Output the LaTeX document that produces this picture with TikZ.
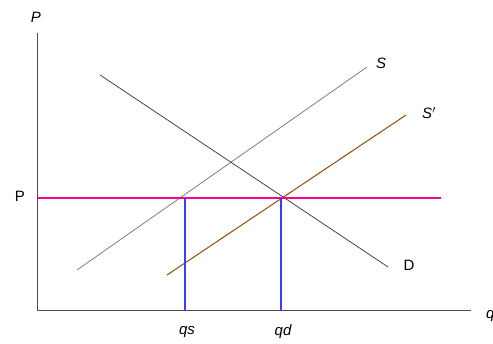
\documentclass[tikz,border=0pt]{standalone}
\usepackage{fontspec}
\setmainfont{Liberation Sans}
\usepackage{tikz}
\usetikzlibrary{positioning}

\definecolor{qblue}{RGB}{60,60,255}
\definecolor{sbrown}{RGB}{150,75,0}
\definecolor{pmagenta}{RGB}{255,0,140}

\begin{document}
\begin{tikzpicture}[
  x=1pt, y=-1pt,
  font=\fontsize{15}{18}\selectfont,
  axis/.style={draw=black!70, line width=1pt},
  curve/.style={line width=0.7pt},
  qline/.style={color=qblue, line width=1.1pt},
  lbl/.style={inner sep=0pt},
  ilbl/.style={lbl, font=\fontsize{15}{18}\selectfont\itshape}
]
  \useasboundingbox (0,0) rectangle (493,344);

  % axes
  \coordinate (o) at (37,311);
  \coordinate (ytop) at (37,33);
  \coordinate (xend) at (471,311);
  \draw[axis] (ytop) -- (o) -- (xend);
  \node[ilbl] (ylab) at (36,17) {P};
  \node[ilbl, anchor=west] (xlab) at (486,316) {q};

  % supply and demand
  \coordinate (s1) at (77,270);
  \coordinate (s2) at (367,67);
  \draw[curve, black!55] (s1) -- (s2);
  \node[ilbl] (slab) at (381,63) {S};

  \coordinate (t1) at (167,275);
  \coordinate (t2) at (406,115);
  \draw[curve, sbrown, line width=1pt] (t1) -- (t2);
  \node[ilbl] (tlab) at (429,113) {S$'$};

  \coordinate (d1) at (100,75);
  \coordinate (d2) at (388,267);
  \draw[curve, black!80] (d1) -- (d2);
  \node[lbl] (dlab) at (409,265) {D};

  % price line
  \coordinate (p1) at (37,198);
  \coordinate (p2) at (441,198);
  \draw[pmagenta, line width=1.3pt] (p1) -- (p2);
  \node[lbl] (plab) at (20,196) {P};

  % quantities
  \coordinate (qs1) at (185,198);
  \coordinate (qs2) at (185,311);
  \coordinate (qd1) at (281,198);
  \coordinate (qd2) at (281,311);
  \draw[qline] (qs1) -- (qs2);
  \draw[qline] (qd1) -- (qd2);
  \node[ilbl] (qslab) at (187,332) {qs};
  \node[ilbl] (qdlab) at (283,332) {qd};
\end{tikzpicture}
\end{document}
